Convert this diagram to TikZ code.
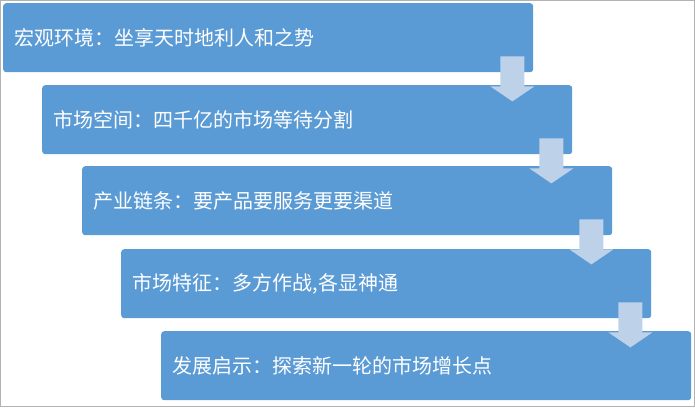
\documentclass[tikz,border=0pt]{standalone}
\usepackage{fontspec}
\newfontfamily\cjk{Noto Sans CJK SC}
\definecolor{barblue}{RGB}{91,155,213}
\definecolor{arrblue}{RGB}{189,209,232}
\begin{document}
\begin{tikzpicture}[x=1pt,y=-1pt,
  bar/.style={draw=none,fill=barblue,rounded corners=3pt,
    minimum width=530pt,minimum height=69pt,anchor=north west,inner sep=0pt},
  lbl/.style={text=white,font=\cjk\fontsize{20}{24}\selectfont,anchor=west}]
\useasboundingbox (0,0) rectangle (695,407);
\draw[gray!60,line width=1pt] (0.5,0.5) rectangle (694.5,406.5);
\foreach \i/\x/\y/\t in {1/3/3/{宏观环境：坐享天时地利人和之势},
  2/42/85/{市场空间：四千亿的市场等待分割},
  3/82/166/{产业链条：要产品要服务更要渠道},
  4/121/249/{市场特征：多方作战,各显神通},
  5/161/331/{发展启示：探索新一轮的市场增长点}}{
  \node[bar] (b\i) at (\x,\y) {};
  \node[lbl] (t\i) at ([xshift=8pt]b\i.west) {\t};
}
\foreach \i in {1,...,4}{
  \coordinate (a\i) at ([xshift=-33pt,yshift=16pt]b\i.south east);
  \fill[arrblue] (a\i) -- ++(24,0) -- ++(0,30)
    -- ++(10,0) -- ++(-22,15) -- ++(-22,-15) -- ++(10,0) -- cycle;
}
\end{tikzpicture}
\end{document}
